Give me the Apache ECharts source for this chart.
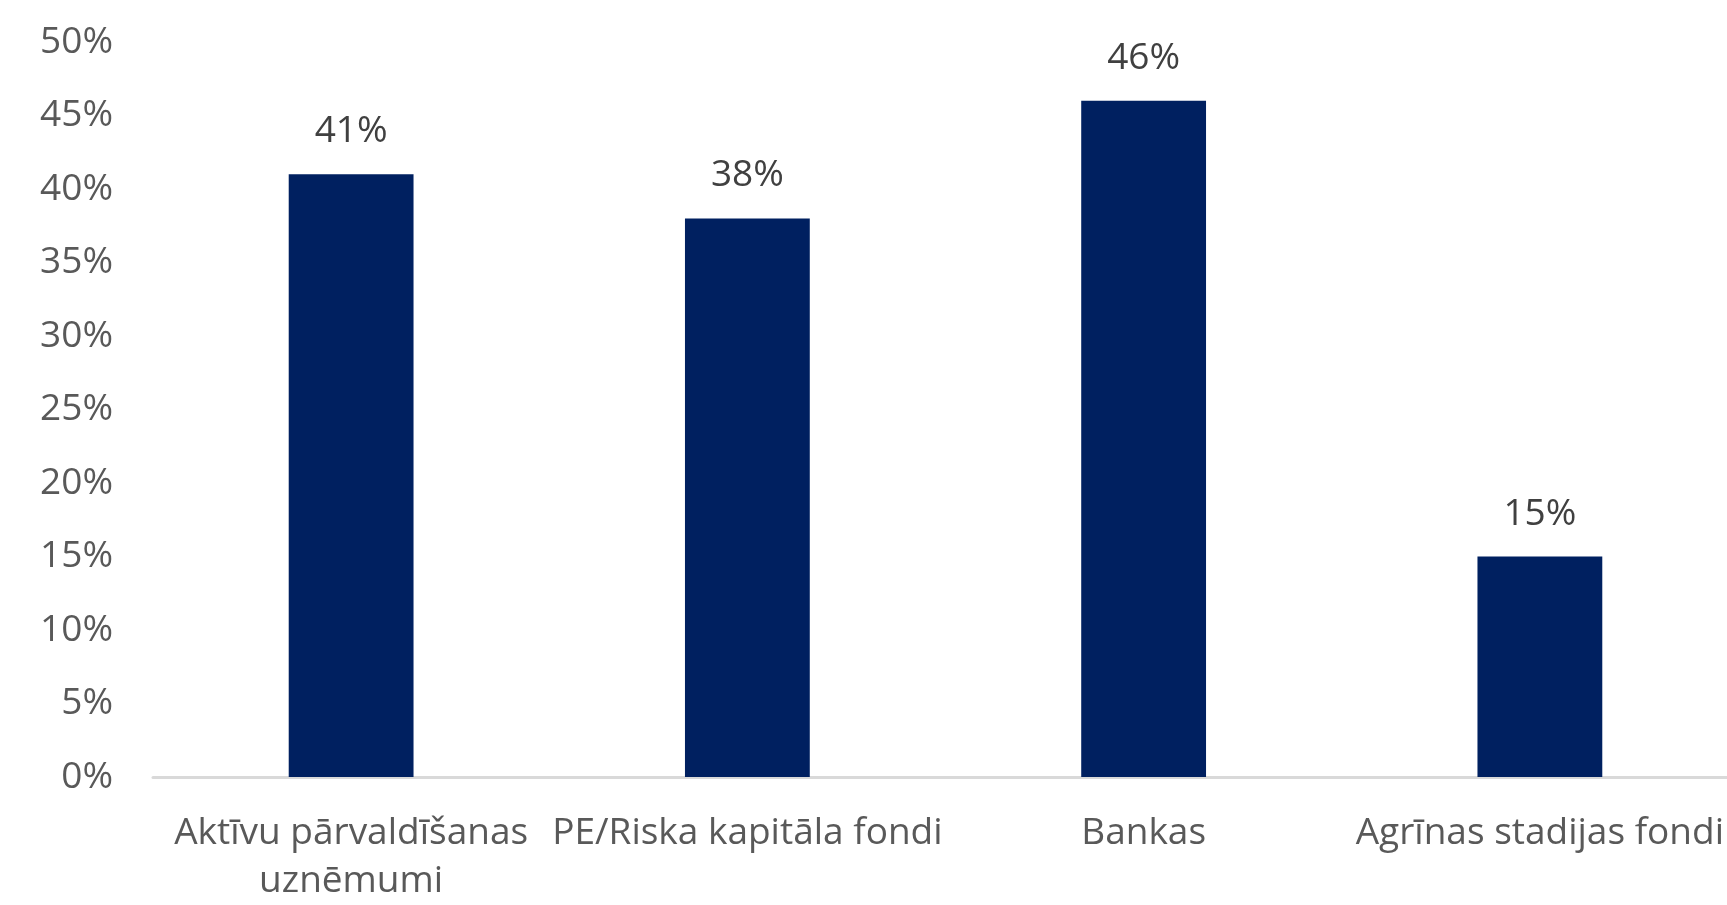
<!DOCTYPE html>
<html>
<head>
<meta charset="utf-8">
<script src="https://cdn.jsdelivr.net/npm/echarts@6/dist/echarts.min.js"></script>
<style>
html,body{margin:0;padding:0;background:#fff;overflow:hidden;width:1727px;height:905px;}
#chart{width:1738px;height:905px;}
</style>
</head>
<body>
<div id="chart"></div>
<script>
const categories = ["Aktīvu pārvaldīšanas\nuznēmumi", "PE/Riska kapitāla fondi", "Bankas", "Agrīnas stadijas fondi"];
const values = [41, 38, 46, 15];
const yTicks = { min: 0, max: 50, interval: 5 };

const chart = echarts.init(document.getElementById('chart'));
chart.setOption({
  animation: false,
  backgroundColor: '#ffffff',
  textStyle: { fontFamily: 'Open Sans' },
  grid: { left: 153, right: 0, top: 42, bottom: 122 },
  xAxis: {
    type: 'category',
    data: categories,
    axisLine: { show: true, lineStyle: { color: '#d9d9d9', width: 3 } },
    axisTick: { show: false },
    axisLabel: {
      interval: 0,
      color: '#595959',
      fontSize: 37,
      fontFamily: 'Open Sans',
      lineHeight: 48,
      margin: 32
    }
  },
  yAxis: {
    type: 'value',
    min: yTicks.min,
    max: yTicks.max,
    interval: yTicks.interval,
    axisLine: { show: false },
    axisTick: { show: false },
    splitLine: { show: false },
    axisLabel: {
      formatter: '{value}%',
      color: '#595959',
      fontSize: 37,
      fontFamily: 'Open Sans',
      margin: 40
    }
  },
  series: [{
    type: 'bar',
    data: values,
    barWidth: '31.5%',
    itemStyle: { color: '#002060' },
    label: {
      show: true,
      position: 'top',
      distance: 24,
      formatter: '{c}%',
      color: '#404040',
      fontSize: 37,
      fontFamily: 'Open Sans'
    }
  }]
});
</script>
</body>
</html>
